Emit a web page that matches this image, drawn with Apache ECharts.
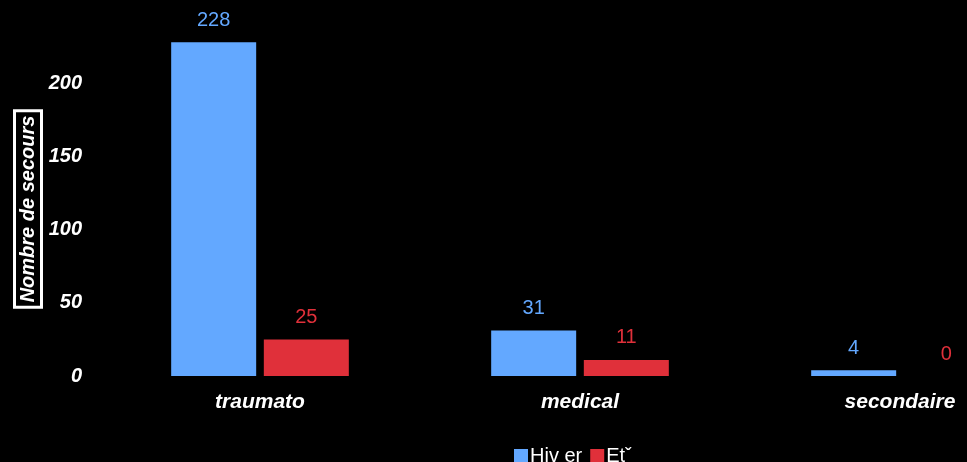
<!DOCTYPE html>
<html>
<head>
<meta charset="utf-8">
<script src="https://cdn.jsdelivr.net/npm/echarts@6/dist/echarts.min.js"></script>
<style>
  html, body { margin: 0; padding: 0; background: #000; overflow: hidden; }
  #chart { width: 1160px; height: 462px; }
</style>
</head>
<body>
<div id="chart"></div>
<script>
const categories = ['traumato', 'medical', 'secondaire'];
const hiver = [228, 31, 4];
const ete = [25, 11, 0];
const seriesNames = ['Hiv er', 'Etˇ'];
const yTitle = 'Nombre de secours';

// plot area is wider than the window: the right part is cut off like in the original
const chart = echarts.init(document.getElementById('chart'));

const font = { fontFamily: 'Arial, Liberation Sans, sans-serif', fontSize: 20 };

chart.setOption({
  backgroundColor: '#000',
  animation: false,
  grid: { left: 100, top: 10, width: 960, height: 366 },
  graphic: [{
    type: 'text',
    x: 28,
    y: 209,
    rotation: Math.PI / 2,
    style: {
      text: yTitle,
      fill: '#fff',
      font: 'italic bold 20px Arial, Liberation Sans, sans-serif',
      align: 'center',
      verticalAlign: 'middle',
      borderColor: '#fff',
      borderWidth: 3,
      padding: [5, 5, 2, 5]
    }
  }],
  legend: {
    top: 441,
    left: 509,
    itemWidth: 14,
    itemHeight: 14,
    itemGap: 8,
    icon: 'rect',
    textStyle: { color: '#fff', ...font, padding: [0, 0, 0, -3] },
    data: seriesNames
  },
  xAxis: {
    type: 'category',
    data: categories,
    axisLine: { show: false },
    axisTick: { show: false },
    axisLabel: { color: '#fff', fontWeight: 'bold', fontStyle: 'italic', margin: 16, ...font, fontSize: 21 }
  },
  yAxis: {
    type: 'value',
    min: 0,
    max: 250,
    interval: 50,
    splitLine: { show: false },
    axisLine: { show: false },
    axisTick: { show: false },
    axisLabel: {
      color: '#fff', fontWeight: 'bold', fontStyle: 'italic', margin: 18, ...font,
      formatter: v => (v === 250 ? '' : v)
    }
  },
  series: [
    {
      name: seriesNames[0],
      type: 'bar',
      data: hiver,
      barWidth: 85,
      barGap: '9%',
      itemStyle: { color: '#63a8ff' },
      label: { show: true, position: 'top', distance: 12, color: '#63a8ff', ...font }
    },
    {
      name: seriesNames[1],
      type: 'bar',
      data: ete,
      barWidth: 85,
      itemStyle: { color: '#e0303a' },
      label: { show: true, position: 'top', distance: 12, color: '#e0303a', ...font }
    }
  ]
});
</script>
</body>
</html>
